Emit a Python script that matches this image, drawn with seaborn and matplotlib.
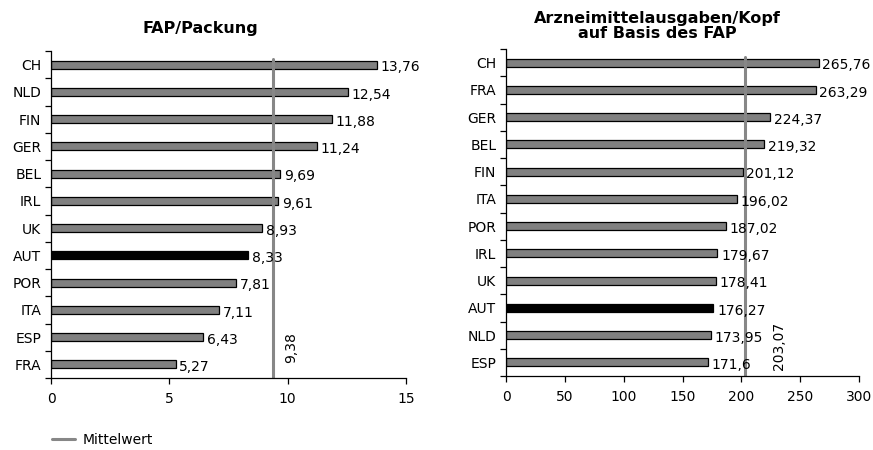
import matplotlib
matplotlib.use("Agg")
import matplotlib.pyplot as plt
from matplotlib.lines import Line2D
import seaborn as sns
import pandas as pd

# FAP per package
pack_countries = ["CH", "NLD", "FIN", "GER", "BEL", "IRL", "UK", "AUT", "POR", "ITA", "ESP", "FRA"]
pack_values = [13.76, 12.54, 11.88, 11.24, 9.69, 9.61, 8.93, 8.33, 7.81, 7.11, 6.43, 5.27]
pack_mean = 9.38
pack_ticks = [0, 5, 10, 15]

# Drug spending per head based on FAP
head_countries = ["CH", "FRA", "GER", "BEL", "FIN", "ITA", "POR", "IRL", "UK", "AUT", "NLD", "ESP"]
head_values = [265.76, 263.29, 224.37, 219.32, 201.12, 196.02, 187.02, 179.67, 178.41, 176.27, 173.95, 171.6]
head_mean = 203.07
head_ticks = [0, 50, 100, 150, 200, 250, 300]

highlight = "AUT"
bar_gray = "#808080"
mean_gray = "#878787"
fs = 10

sns.set_theme(style="white")
plt.rcParams["font.family"] = ["DejaVu Sans"]
plt.rcParams["text.color"] = "black"
plt.rcParams["xtick.color"] = "black"
plt.rcParams["ytick.color"] = "black"

fig = plt.figure(figsize=(8.73, 4.5), dpi=100)
ax1 = fig.add_axes([51 / 873, 1 - 378 / 450, 355 / 873, 327 / 450])
ax2 = fig.add_axes([506 / 873, 1 - 376 / 450, 353 / 873, 327 / 450])


def fmt(v):
    return f"{v:g}".replace(".", ",")


def draw(ax, countries, values, mean, ticks, label_offset, mean_label_dx):
    df = pd.DataFrame({"land": countries, "wert": values})
    pal = {c: ("black" if c == highlight else bar_gray) for c in countries}
    sns.barplot(data=df, x="wert", y="land", hue="land", palette=pal, legend=False,
                orient="h", width=0.3, edgecolor="black", linewidth=0.9, saturation=1,
                ax=ax)
    n = len(countries)
    ax.set_ylim(n - 0.5, -0.5)
    ax.set_xlim(ticks[0], ticks[-1])
    ax.set_xticks(ticks)
    ax.set_xlabel("")
    ax.set_ylabel("")
    ax.set_yticks([i + 0.5 for i in range(-1, n)], minor=True)
    ax.tick_params(axis="y", which="both", left=True)
    ax.tick_params(axis="y", which="major", length=0, pad=7, labelsize=fs)
    ax.tick_params(axis="y", which="minor", length=4, width=0.9, direction="out")
    ax.tick_params(axis="x", which="major", bottom=True, length=4, width=0.9, direction="out",
                   labelsize=fs, pad=6)
    for s in ["top", "right"]:
        ax.spines[s].set_visible(False)
    for s in ["left", "bottom"]:
        ax.spines[s].set_color("black")
        ax.spines[s].set_linewidth(0.9)
    for i, v in enumerate(values):
        ax.text(v + label_offset, i + 0.1, fmt(v), va="center", ha="left", fontsize=fs)
    ax.plot([mean, mean], [n - 0.5, -0.2], color=mean_gray, linewidth=2.2, zorder=1)
    ax.text(mean + mean_label_dx, n - 1.6, fmt(mean), rotation=90,
            va="center", ha="center", fontsize=fs)


draw(ax1, pack_countries, pack_values, pack_mean, pack_ticks, 0.15, 0.77)
draw(ax2, head_countries, head_values, head_mean, head_ticks, 3, 29)

fig.text(200 / 873, 1 - 28 / 450, "FAP/Packung", ha="center", va="center",
         fontsize=11.5, fontweight="bold")
fig.text(657 / 873, 1 - 26 / 450, "Arzneimittelausgaben/Kopf\nauf Basis des FAP",
         ha="center", va="center", fontsize=11.5, fontweight="bold", linespacing=1.05)

handle = Line2D([], [], color=mean_gray, linewidth=2.2)
fig.legend([handle], ["Mittelwert"], loc="center left", bbox_to_anchor=(0.045, 1 - 440 / 450),
           frameon=False, fontsize=fs, handlelength=1.7, handletextpad=0.5)

fig.savefig("out.png", dpi=100)
